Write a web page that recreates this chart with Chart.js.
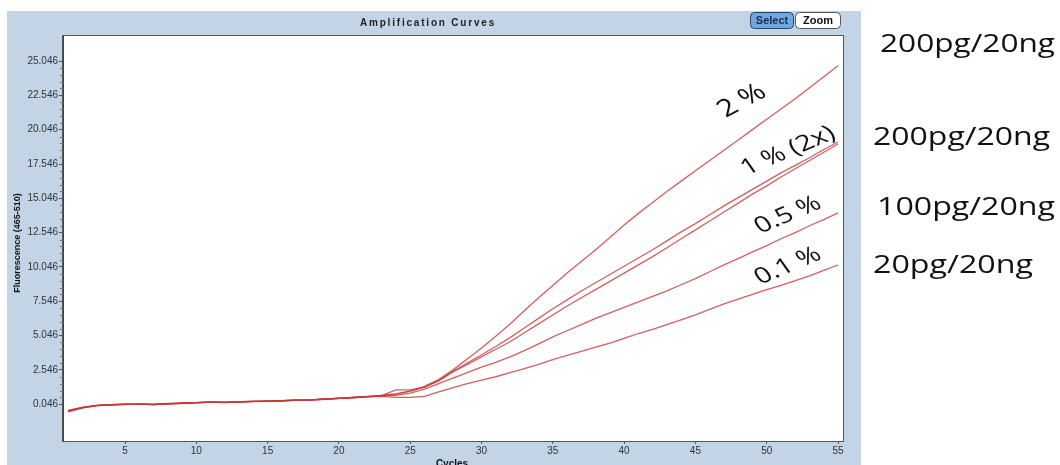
<!DOCTYPE html>
<html>
<head>
<meta charset="utf-8">
<script src="https://cdn.jsdelivr.net/npm/chart.js@4.4.0/dist/chart.umd.min.js"></script>
<style>
  html, body { margin: 0; padding: 0; background: #fff; }
  #wrap { width: 1060px; height: 465px; }
</style>
</head>
<body>
<div id="wrap"><canvas id="ampChart" width="1060" height="465"></canvas></div>
<script>
// cycle numbers on the x axis
const cycles = [1,2,3,4,5,6,7,8,9,10,11,12,13,14,15,16,17,18,19,20,21,22,23,24,25,26,27,28,29,30,
  31,32,33,34,35,36,37,38,39,40,41,42,43,44,45,46,47,48,49,50,51,52,53,54,55];

// fluorescence, one array per curve
const curve2pct = [-0.40,-0.18,-0.04,0.01,0.05,0.06,0.04,0.10,0.13,0.17,0.21,0.20,0.24,0.26,0.28,0.31,0.36,0.37,0.43,0.49,0.55,0.62,0.70,
  0.80,1.00,1.35,1.85,2.55,3.35,4.15,5.00,5.90,6.85,7.80,8.70,9.60,10.45,11.30,12.20,13.10,13.95,14.75,15.55,16.30,17.05,17.80,18.55,19.30,20.05,20.80,21.55,22.30,23.10,23.90,24.70];
const curve1pctA = [-0.45,-0.20,-0.05,0.00,0.04,0.05,0.03,0.08,0.12,0.16,0.20,0.18,0.22,0.25,0.27,0.30,0.34,0.36,0.42,0.48,0.54,0.60,0.68,
  0.78,1.00,1.30,1.80,2.45,3.05,3.65,4.25,4.90,5.60,6.30,7.00,7.65,8.30,8.90,9.50,10.10,10.70,11.30,11.95,12.60,13.20,13.85,14.50,15.10,15.70,16.30,16.90,17.45,18.00,18.60,19.15];
const curve1pctB = [-0.50,-0.22,-0.06,0.00,0.03,0.06,0.02,0.07,0.11,0.15,0.21,0.17,0.21,0.24,0.26,0.29,0.33,0.35,0.41,0.47,0.53,0.59,0.67,
  1.10,1.10,1.30,1.75,2.40,2.95,3.50,4.05,4.60,5.25,5.90,6.55,7.20,7.80,8.40,9.00,9.60,10.20,10.80,11.45,12.10,12.75,13.40,14.05,14.70,15.35,15.95,16.60,17.20,17.80,18.40,19.00];
const curve05pct = [-0.42,-0.19,-0.03,0.02,0.05,0.04,0.04,0.09,0.13,0.17,0.19,0.19,0.23,0.25,0.28,0.30,0.35,0.37,0.42,0.48,0.54,0.60,0.66,
  0.70,0.85,1.15,1.55,1.95,2.35,2.75,3.10,3.50,3.95,4.45,4.95,5.40,5.85,6.30,6.70,7.10,7.50,7.90,8.30,8.75,9.20,9.70,10.20,10.65,11.15,11.60,12.10,12.55,13.05,13.50,13.98];
const curve01pct = [-0.48,-0.21,-0.05,0.01,0.04,0.05,0.03,0.08,0.12,0.16,0.20,0.19,0.22,0.25,0.27,0.30,0.34,0.36,0.41,0.47,0.52,0.58,0.62,
  0.55,0.55,0.62,0.95,1.25,1.55,1.80,2.05,2.35,2.65,2.95,3.30,3.60,3.90,4.20,4.50,4.85,5.20,5.50,5.85,6.20,6.55,6.95,7.35,7.70,8.05,8.40,8.70,9.05,9.40,9.80,10.19];

const yTicks = [0.046, 2.546, 5.046, 7.546, 10.046, 12.546, 15.046, 17.546, 20.046, 22.546, 25.046];
const xTicks = [5, 10, 15, 20, 25, 30, 35, 40, 45, 50, 55];

const curveLabels = ['2 %', '1 % (2x)', '0.5 %', '0.1 %'];
const amountLabels = ['200pg/20ng', '200pg/20ng', '100pg/20ng', '20pg/20ng'];

const lineColor = 'rgba(200,55,55,0.8)';

function toPoints(values) {
    return cycles.map((c, i) => ({ x: c, y: values[i] }));
}

function stretchedText(ctx, text, x, y, angle, sx, align) {
    ctx.save();
    ctx.translate(x, y);
    ctx.scale(sx, 1);
    ctx.rotate(angle);
    ctx.textAlign = align;
    ctx.fillText(text, 0, 0);
    ctx.restore();
}

const panelPlugin = {
    id: 'panel',
    beforeDraw(chart) {
        const ctx = chart.ctx;
        const a = chart.chartArea;
        ctx.save();
        ctx.fillStyle = '#ffffff';
        ctx.fillRect(0, 0, chart.width, chart.height);
        ctx.fillStyle = '#c3d4e7';
        ctx.fillRect(7, 11, 854, 454);
        ctx.fillStyle = '#ffffff';
        ctx.fillRect(a.left, a.top, a.right - a.left, a.bottom - a.top);
        ctx.restore();
    },
    afterDraw(chart) {
        const ctx = chart.ctx;
        const a = chart.chartArea;
        const yScale = chart.scales.y;
        ctx.save();

        // frame of the plot
        ctx.strokeStyle = '#555';
        ctx.lineWidth = 1;
        ctx.strokeRect(a.left - 0.5, a.top - 0.5, a.right - a.left + 1, a.bottom - a.top + 1);

        // minor ticks on the y axis
        ctx.strokeStyle = '#777';
        ctx.beginPath();
        for (let i = 0; i < yTicks.length - 1; i++) {
            for (let k = 1; k < 5; k++) {
                const py = Math.round(yScale.getPixelForValue(yTicks[i] + k * 0.5)) + 0.5;
                ctx.moveTo(a.left - 3, py);
                ctx.lineTo(a.left, py);
            }
        }
        ctx.stroke();

        // title
        ctx.fillStyle = '#222';
        ctx.font = 'bold 10px "Liberation Sans"';
        ctx.letterSpacing = '1.8px';
        ctx.textAlign = 'center';
        ctx.textBaseline = 'middle';
        ctx.fillText('Amplification Curves', 428, 23);
        ctx.letterSpacing = '0px';

        // buttons
        ctx.lineWidth = 1;
        ctx.beginPath();
        ctx.roundRect(750.5, 12.5, 43, 16, 4);
        ctx.fillStyle = '#6fa8df';
        ctx.fill();
        ctx.strokeStyle = '#28466f';
        ctx.stroke();
        ctx.beginPath();
        ctx.roundRect(795.5, 12.5, 45, 16, 4);
        ctx.fillStyle = '#ffffff';
        ctx.fill();
        ctx.strokeStyle = '#555';
        ctx.stroke();
        ctx.font = 'bold 11px "Liberation Sans"';
        ctx.fillStyle = '#1c2c48';
        ctx.fillText('Select', 772, 21);
        ctx.fillStyle = '#111';
        ctx.fillText('Zoom', 818, 21);

        // axis titles
        ctx.fillStyle = '#111';
        ctx.font = 'bold 9px "Liberation Sans"';
        ctx.save();
        ctx.translate(18, 243);
        ctx.rotate(-Math.PI / 2);
        ctx.fillText('Fluorescence (465-510)', 0, 0);
        ctx.restore();
        ctx.font = 'bold 10px "Liberation Sans"';
        ctx.textBaseline = 'alphabetic';
        ctx.fillText('Cycles', 452, 467);

        // hand-written curve labels
        ctx.fillStyle = '#111';
        ctx.textBaseline = 'middle';
        const labelPos = [[742, 101, -0.6, 24], [788, 151, -0.5, 22], [788, 215, -0.5, 22], [788, 266, -0.5, 22]];
        curveLabels.forEach((t, i) => {
            ctx.font = labelPos[i][3] + 'px "Open Sans"';
            stretchedText(ctx, t, labelPos[i][0], labelPos[i][1], labelPos[i][2], 1.3, 'center');
        });

        // amounts on the right, fitted to the widths seen in the picture
        ctx.textBaseline = 'alphabetic';
        ctx.font = '26px "Open Sans"';
        const amountPos = [[880, 52, 175], [873, 145, 177], [877, 215, 178], [873, 273, 160]];
        amountLabels.forEach((t, i) => {
            const sx = amountPos[i][2] / ctx.measureText(t).width;
            stretchedText(ctx, t, amountPos[i][0], amountPos[i][1], 0, sx, 'left');
        });

        ctx.restore();
    }
};

const seriesList = [curve2pct, curve1pctA, curve1pctB, curve05pct, curve01pct];

new Chart(document.getElementById('ampChart'), {
    type: 'line',
    data: {
        datasets: seriesList.map((s, i) => ({
            label: 'curve ' + (i + 1),
            data: toPoints(s),
            borderColor: lineColor,
            borderWidth: 1.3,
            pointRadius: 0,
            tension: 0,
            fill: false
        }))
    },
    options: {
        responsive: false,
        animation: false,
        layout: { padding: { left: 0, top: 36, right: 217, bottom: 0 } },
        plugins: {
            legend: { display: false },
            tooltip: { enabled: false }
        },
        scales: {
            x: {
                type: 'linear',
                min: 0.65,
                max: 55.35,
                afterFit(scale) { scale.height = 24; },
                afterBuildTicks(scale) { scale.ticks = xTicks.map(v => ({ value: v })); },
                grid: { drawOnChartArea: false, tickLength: 3, color: '#555' },
                border: { display: true, color: '#444' },
                ticks: {
                    autoSkip: false,
                    maxRotation: 0,
                    padding: 1,
                    color: '#333',
                    font: { family: 'Liberation Sans', size: 10 },
                    callback: v => String(v)
                }
            },
            y: {
                type: 'linear',
                min: -2.63,
                max: 26.87,
                afterFit(scale) { scale.width = 63; },
                afterBuildTicks(scale) { scale.ticks = yTicks.map(v => ({ value: v })); },
                grid: { drawOnChartArea: false, tickLength: 4, color: '#555' },
                border: { display: true, color: '#444' },
                ticks: {
                    padding: 1,
                    color: '#333',
                    font: { family: 'Liberation Sans', size: 10 },
                    callback: v => v.toFixed(3)
                }
            }
        }
    },
    plugins: [panelPlugin]
});
</script>
</body>
</html>
